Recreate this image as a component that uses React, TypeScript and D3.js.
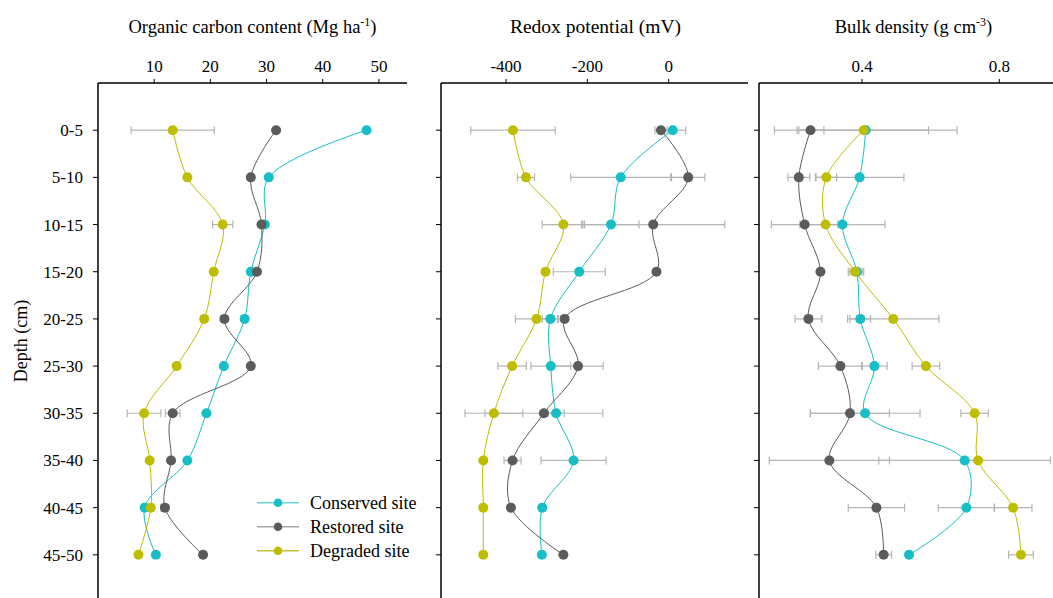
import React from 'react';
import * as d3 from 'd3';

// depth classes (cm)
const depths = ['0-5', '5-10', '10-15', '15-20', '20-25', '25-30', '30-35', '35-40', '40-45', '45-50'];
const depthMid = [2.5, 7.5, 12.5, 17.5, 22.5, 27.5, 32.5, 37.5, 42.5, 47.5];

const seriesNames = ['Conserved site', 'Restored site', 'Degraded site'];
const seriesColors = ['#17bec4', '#5b5b5b', '#bfbd00'];
const legendLineColors = ['#6fd6d8', '#a8a8a8', '#c4c23a'];

// organic carbon content (Mg ha-1)
const carbonConserved = [47.8, 30.4, 29.7, 27.2, 26.1, 22.4, 19.3, 15.9, 8.3, 10.3];
const carbonRestored = [31.7, 27.2, 29.1, 28.3, 22.5, 27.2, 13.3, 13.0, 11.9, 18.7];
const carbonDegraded = [13.3, 15.9, 22.2, 20.6, 18.9, 14.0, 8.2, 9.2, 9.4, 7.2];
const carbonErrConserved = [0, 0, 0, 0, 0, 0, 0, 0, 0, 0];
const carbonErrRestored = [0, 0, 0, 0, 0, 0, 1.3, 0, 0.7, 0];
const carbonErrDegraded = [7.4, 0, 1.8, 0, 0, 0, 3.0, 0, 0, 0];

// redox potential (mV)
const redoxConserved = [10, -118, -142, -220, -291, -290, -277, -234, -311, -312];
const redoxRestored = [-19, 48, -38, -30, -256, -223, -307, -384, -388, -259];
const redoxDegraded = [-383, -351, -259, -303, -325, -385, -430, -456, -456, -456];
const redoxErrConserved = [32, 123, 69, 64, 20, 49, 20, 80, 0, 0];
const redoxErrRestored = [15, 41, 176, 0, 0, 62, 145, 21, 0, 0];
const redoxErrDegraded = [104, 21, 52, 0, 52, 35, 71, 0, 0, 0];

// bulk density (g cm-3)
const bulkConserved = [0.411, 0.393, 0.343, 0.385, 0.395, 0.436, 0.409, 0.699, 0.704, 0.537];
const bulkRestored = [0.25, 0.216, 0.233, 0.279, 0.244, 0.337, 0.365, 0.305, 0.442, 0.463];
const bulkDegraded = [0.405, 0.296, 0.294, 0.38, 0.491, 0.586, 0.728, 0.738, 0.84, 0.863];
const bulkErrConserved = [0.266, 0.129, 0.124, 0.02, 0.03, 0.037, 0.16, 0.25, 0.082, 0];
const bulkErrRestored = [0.039, 0.032, 0.097, 0, 0.039, 0.064, 0.115, 0.175, 0.082, 0.023];
const bulkErrDegraded = [0.189, 0.03, 0, 0.02, 0.133, 0.04, 0.04, 0, 0.055, 0.036];

const carbonTicks = [10, 20, 30, 40, 50];
const redoxTicks = [-400, -200, 0];
const bulkTicks = [0.4, 0.8];

const FONT = '"Liberation Serif", "Times New Roman", serif';
const TOP = 83;
const PANEL_W = 309;

const y = d3.scaleLinear().domain([-2.5, 52.5]).range([TOP, 602]);

type PanelProps = {
  left: number;
  domain: [number, number];
  ticks: number[];
  fmt: (v: number) => string;
  values: number[][];
  errors: number[][];
  title: React.ReactNode;
  titleSize: number;
  axisEnd?: number;
  legend?: boolean;
};

const Panel = ({ left, domain, ticks, fmt, values, errors, title, titleSize, axisEnd, legend }: PanelProps) => {
  const x = d3.scaleLinear().domain(domain).range([left, left + PANEL_W]);
  const line = d3
    .line<number>()
    .x((d) => x(d))
    .y((_, i) => y(depthMid[i]))
    .curve(d3.curveCatmullRom.alpha(0.5));
  const end = axisEnd ?? left + PANEL_W;

  return (
    <g>
      <text x={left + PANEL_W / 2} y={33} textAnchor="middle" fontSize={titleSize}>
        {title}
      </text>
      {/* top axis */}
      <line x1={left} x2={end} y1={TOP} y2={TOP} stroke="#000" strokeWidth={1.5} />
      {ticks.map((t) => (
        <g key={t}>
          <line x1={x(t)} x2={x(t)} y1={TOP} y2={TOP - 4} stroke="#000" strokeWidth={1} />
          <text x={x(t)} y={71.5} textAnchor="middle" fontSize={17}>
            {fmt(t)}
          </text>
        </g>
      ))}
      {/* left axis */}
      <line x1={left} x2={left} y1={TOP} y2={598} stroke="#000" strokeWidth={1.5} />
      {depthMid.map((d) => (
        <line key={d} x1={left - 5} x2={left} y1={y(d)} y2={y(d)} stroke="#000" strokeWidth={1} />
      ))}
      {/* error bars */}
      {errors.map((errs, s) =>
        errs.map((e, i) => {
          if (!e) return null;
          const v = values[s][i];
          const cy = y(depthMid[i]);
          const x0 = x(v - e);
          const x1 = x(v + e);
          return (
            <g key={`e${s}-${i}`} stroke="#b5b5b5" strokeWidth={1.2}>
              <line x1={x0} x2={x1} y1={cy} y2={cy} />
              <line x1={x0} x2={x0} y1={cy - 4} y2={cy + 4} />
              <line x1={x1} x2={x1} y1={cy - 4} y2={cy + 4} />
            </g>
          );
        })
      )}
      {values.map((vals, s) => (
        <path key={`l${s}`} d={line(vals) || ''} fill="none" stroke={seriesColors[s]} strokeWidth={1} />
      ))}
      {values.map((vals, s) =>
        vals.map((v, i) => (
          <circle key={`c${s}-${i}`} cx={x(v)} cy={y(depthMid[i])} r={5} fill={seriesColors[s]} />
        ))
      )}
      {legend &&
        seriesNames.map((n, s) => {
          const ly = 502.7 + s * 24;
          return (
            <g key={n}>
              <line x1={257} x2={299} y1={ly} y2={ly} stroke={legendLineColors[s]} strokeWidth={1.5} />
              <circle cx={278} cy={ly} r={4.3} fill={seriesColors[s]} />
              <text x={310} y={ly + 6} fontSize={18}>
                {n}
              </text>
            </g>
          );
        })}
    </g>
  );
};

const App = () => {
  return (
    <svg
      width={1053}
      height={598}
      style={{ position: 'absolute', left: 0, top: 0, background: '#fff' }}
      fontFamily={FONT}
    >
      {depths.map((d, i) => (
        <text key={d} x={83} y={y(depthMid[i]) + 6} textAnchor="end" fontSize={17}>
          {d}
        </text>
      ))}
      <text transform={`translate(27,341) rotate(-90)`} textAnchor="middle" fontSize={18}>
        Depth (cm)
      </text>

      <Panel
        left={98}
        domain={[0, 55]}
        ticks={carbonTicks}
        fmt={(v) => String(v)}
        values={[carbonConserved, carbonRestored, carbonDegraded]}
        errors={[carbonErrConserved, carbonErrRestored, carbonErrDegraded]}
        titleSize={18.5}
        title={
          <>
            Organic carbon content (Mg ha
            <tspan baselineShift="super" fontSize={12}>
              -1
            </tspan>
            )
          </>
        }
        legend
      />
      <Panel
        left={441}
        domain={[-560, 200]}
        ticks={redoxTicks}
        fmt={(v) => String(v)}
        values={[redoxConserved, redoxRestored, redoxDegraded]}
        errors={[redoxErrConserved, redoxErrRestored, redoxErrDegraded]}
        titleSize={19.5}
        title="Redox potential (mV)"
        axisEnd={748}
      />
      <Panel
        left={759}
        domain={[0.1, 1.0]}
        ticks={bulkTicks}
        fmt={(v) => v.toFixed(1)}
        values={[bulkConserved, bulkRestored, bulkDegraded]}
        errors={[bulkErrConserved, bulkErrRestored, bulkErrDegraded]}
        titleSize={18.5}
        title={
          <>
            Bulk density (g cm
            <tspan baselineShift="super" fontSize={12}>
              -3
            </tspan>
            )
          </>
        }
      />
    </svg>
  );
};

export default App;
